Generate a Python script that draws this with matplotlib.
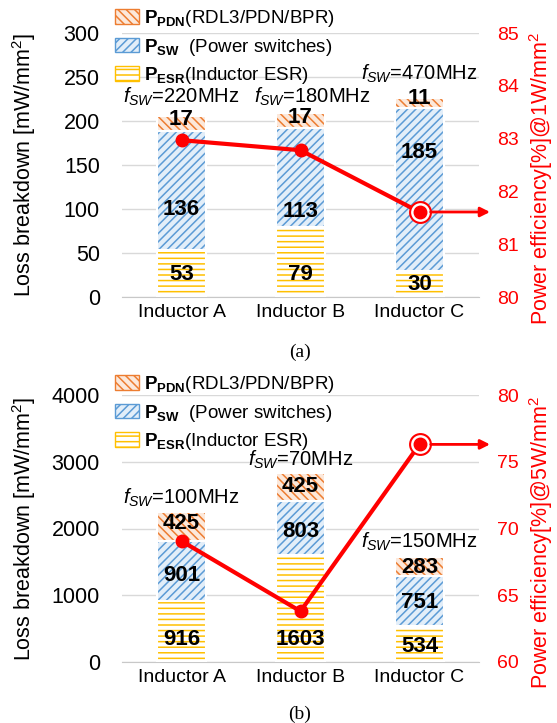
import matplotlib
matplotlib.use('Agg')
import matplotlib.pyplot as plt
import matplotlib.patches as mpatches
import numpy as np

plt.rcParams['font.family'] = ['Liberation Sans', 'DejaVu Sans']
plt.rcParams['mathtext.fontset'] = 'custom'
plt.rcParams['mathtext.rm'] = 'Liberation Sans'
plt.rcParams['mathtext.it'] = 'Liberation Sans:italic'
plt.rcParams['mathtext.bf'] = 'Liberation Sans:bold'
plt.rcParams['hatch.linewidth'] = 1.1

categories = ['Inductor A', 'Inductor B', 'Inductor C']

# ---- (a) @1W/mm2 ----
esr_a = [53, 79, 30]
sw_a = [136, 113, 185]
pdn_a = [17, 17, 11]
eff_a = [82.97, 82.78, 81.61]
fsw_a = ['220MHz', '180MHz', '470MHz']
lab_esr_a = [25, 25, 14]
lab_sw_a = [99, 97, 164]
lab_pdn_a = [202, 204, 226]
fsw_x_a = [0.0, 1.1, 2.0]
fsw_y_a = [227, 227, 254]

# ---- (b) @5W/mm2 ----
esr_b = [916, 1603, 534]
sw_b = [901, 803, 751]
pdn_b = [425, 425, 283]
eff_b = [69.06, 63.8, 76.3]
fsw_b = ['100MHz', '70MHz', '150MHz']
lab_esr_b = [330, 330, 225]
lab_sw_b = [1303, 1948, 884]
lab_pdn_b = [2082, 2622, 1423]
fsw_x_b = [0.0, 1.0, 2.0]
fsw_y_b = [2457, 3026, 1798]

W, H = 557, 723
fig = plt.figure(figsize=(W / 100, H / 100), dpi=100)

styles = {
    'pdn': dict(bg='#FCE8DA', hc='#ED7D31', hatch='\\\\\\\\'),
    'sw': dict(bg='#E2EEF9', hc='#5B9BD5', hatch='////'),
    'esr': dict(bg='#FFFFFF', hc='#FFC000', hatch='---'),
}
legend_labels = [r'$\mathbf{P_{PDN}}$(RDL3/PDN/BPR)',
                 r'$\mathbf{P_{SW}}$  (Power switches)',
                 r'$\mathbf{P_{ESR}}$(Inductor ESR)']


def panel(rect, esr, sw, pdn, eff, fsw, lab_esr, lab_sw, lab_pdn, fsw_x, fsw_y,
          ylim, yticks, ylim2, yticks2, rlabel, leg_top, cap, cap_y):
    ax = fig.add_axes(rect)
    x = np.arange(len(categories))
    w = 0.41
    esr = np.array(esr); sw = np.array(sw); pdn = np.array(pdn)
    segs = [('esr', esr, np.zeros(3)), ('sw', sw, esr), ('pdn', pdn, esr + sw)]
    for key, vals, bottom in segs:
        s = styles[key]
        ax.bar(x, vals, w, bottom=bottom, color=s['bg'], edgecolor=s['hc'],
               hatch=s['hatch'], linewidth=0, zorder=2)
        ax.bar(x, vals, w, bottom=bottom, fill=False, edgecolor='white',
               linewidth=1.5, zorder=3)
    for i in range(3):
        ax.text(x[i], lab_esr[i], str(esr[i]), ha='center', va='center',
                fontsize=16, fontweight='bold', zorder=5)
        ax.text(x[i], lab_sw[i], str(sw[i]), ha='center', va='center',
                fontsize=16, fontweight='bold', zorder=5)
        ax.text(x[i], lab_pdn[i], str(pdn[i]), ha='center', va='center',
                fontsize=16, fontweight='bold', zorder=5)
        ax.text(fsw_x[i], fsw_y[i], r'$f_{SW}$=' + fsw[i], ha='center',
                va='center', fontsize=14.5, zorder=5)
    ax.set_xlim(-0.5, 2.5)
    ax.set_ylim(*ylim)
    ax.set_yticks(yticks)
    ax.set_xticks(x)
    ax.set_xticklabels(categories)
    ax.set_axisbelow(True)
    ax.grid(axis='y', color='#D9D9D9', linewidth=1)
    for sp in ['top', 'left', 'right']:
        ax.spines[sp].set_visible(False)
    ax.spines['bottom'].set_color('#C8C8C8')
    ax.tick_params(axis='y', length=0, pad=16, labelsize=15.5)
    ax.tick_params(axis='x', length=0, pad=5, labelsize=14)
    ax.set_ylabel('Loss breakdown [mW/mm$^2$]', fontsize=15.5)
    ax.yaxis.set_label_coords(-0.235, 0.5)

    ax2 = ax.twinx()
    ax2.set_ylim(*ylim2)
    ax2.set_yticks(yticks2)
    for sp in ax2.spines.values():
        sp.set_visible(False)
    ax2.tick_params(axis='y', length=0, pad=13, labelsize=14, labelcolor='red')
    ax2.set_ylabel(rlabel, fontsize=15.5, color='red')
    ax2.yaxis.set_label_coords(1.134, 0.45)
    ax2.plot(x, eff, color='red', lw=3, zorder=3)
    hi = 2
    ax2.plot([x[hi]], [eff[hi]], marker='o', ms=15, mfc='white', mec='red',
             mew=1.5, zorder=4)
    ax2.plot(x, eff, ls='none', marker='o', ms=9, color='red', zorder=5)
    tip = (490 - 122) / 357
    ax2.annotate('', xy=(tip, eff[hi]), xycoords=('axes fraction', 'data'),
                 xytext=(x[hi], eff[hi]), textcoords='data',
                 arrowprops=dict(arrowstyle='-|>', color='red', lw=2,
                                 mutation_scale=14, shrinkA=8, shrinkB=0),
                 annotation_clip=False, zorder=4)

    handles = [mpatches.Patch(facecolor=styles[k]['bg'],
                              edgecolor=styles[k]['hc'],
                              hatch=styles[k]['hatch'], lw=1)
               for k in ['pdn', 'sw', 'esr']]
    fig.legend(handles, legend_labels, loc='upper left',
               bbox_to_anchor=(115 / W, 1 - leg_top / H),
               bbox_transform=fig.transFigure, frameon=False, fontsize=13.5,
               handlelength=1.3, handleheight=0.8, handletextpad=0.25,
               labelspacing=0.4, borderpad=0, borderaxespad=0)
    fig.text(300 / W, 1 - cap_y / H, cap, ha='center', va='center',
             fontsize=14, family='Liberation Serif')


panel([122 / W, 1 - 297 / H, 357 / W, 264 / H], esr_a, sw_a, pdn_a, eff_a,
      fsw_a, lab_esr_a, lab_sw_a, lab_pdn_a, fsw_x_a, fsw_y_a,
      (0, 300), [0, 50, 100, 150, 200, 250, 300], (80, 85),
      [80, 81, 82, 83, 84, 85], 'Power efficiency[%]@1W/mm$^2$', 8, '(a)', 352)
panel([122 / W, 1 - 662 / H, 357 / W, 267 / H], esr_b, sw_b, pdn_b, eff_b,
      fsw_b, lab_esr_b, lab_sw_b, lab_pdn_b, fsw_x_b, fsw_y_b,
      (0, 4000), [0, 1000, 2000, 3000, 4000], (60, 80),
      [60, 65, 70, 75, 80], 'Power efficiency[%]@5W/mm$^2$', 374, '(b)', 714)

fig.savefig('out.png', dpi=100)
